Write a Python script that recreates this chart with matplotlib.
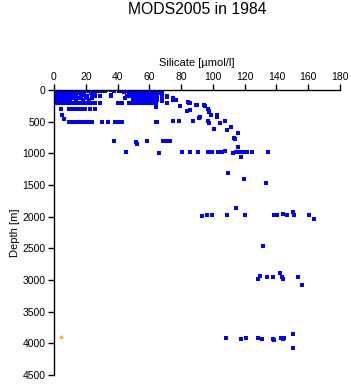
import numpy as np
import matplotlib.pyplot as plt

plt.rcParams['font.family'] = ['Liberation Sans', 'DejaVu Sans']

# upper layer: standard levels [m] and silicate values [umol/l] at each level
levels = [0, 10, 20, 30, 50, 75, 100, 125, 150, 200]
si_levels = [
    [1, 2, 3, 4, 5, 6, 7, 8, 9, 10, 11, 12, 14, 17, 20, 24, 27, 30, 33, 36, 42, 44, 46, 48, 52, 54, 56, 58, 60, 62, 64],
    [1, 2, 3, 4, 5, 6, 7, 8, 9, 10, 11, 13, 15, 19, 22, 29, 32, 38, 41, 45, 47, 50, 53, 55, 57, 59, 61, 63],
    [1, 2, 3, 4, 5, 6, 7, 8, 9, 10, 12, 14, 17, 21, 28, 31, 43, 49, 51, 54, 56, 58, 60, 62, 64],
    [1, 2, 3, 4, 5, 6, 7, 8, 9, 10, 11, 13, 16, 26, 44, 50, 52, 55, 57, 59, 61, 63, 65],
    [1, 2, 3, 4, 5, 6, 7, 8, 9, 10, 12, 15, 18, 23, 47, 50, 51, 53, 55, 57, 59, 61, 63, 65, 66, 68],
    [1, 2, 3, 4, 5, 6, 7, 8, 9, 10, 11, 13, 19, 24, 36, 50, 52, 54, 56, 58, 60, 62, 64, 68],
    [1, 2, 3, 4, 5, 6, 7, 8, 9, 10, 12, 14, 17, 21, 26, 29, 36, 46, 48, 51, 53, 55, 57, 59, 61, 63, 65, 71],
    [1, 2, 3, 4, 5, 6, 7, 8, 9, 11, 13, 16, 20, 24, 45, 50, 52, 54, 56, 58, 60, 62, 64, 68, 75],
    [1, 2, 3, 4, 5, 6, 7, 8, 9, 10, 14, 18, 22, 50, 51, 53, 55, 57, 59, 61, 63, 65, 75, 77],
    [1, 2, 3, 4, 5, 6, 8, 10, 12, 14, 16, 18, 20, 22, 24, 26, 29, 40, 43, 47, 50, 51, 53, 55, 57, 59, 61, 63, 64, 71, 85],
]

# deeper samples
si_deep = [64, 68, 68, 71, 71, 77, 79, 84.5, 85.6, 89.6, 89.8, 84, 85.8, 94.6, 95.3, 96.7, 97.7, 97.7,
           99, 102.8, 102.8, 91.9,
           4.4, 9.6, 12, 14.5, 17, 19.5, 22.6, 25.8, 5.2, 6.5,
           9.6, 11.5, 13.5, 15.5, 17.5, 19.5, 21.5, 23.7, 30, 34, 38.5, 40.5, 42.6, 64, 65, 75, 78.9, 87.7,
           97, 97.7, 104.5, 107.8, 91.5,
           100.9, 111.6, 108.9, 115.6, 113.5, 114, 115.6,
           38, 51.6, 52.4, 58.3, 68.8, 70.2, 71.6, 73,
           45.1, 66, 80.7, 85.8, 90.8, 96.7, 98, 99.2, 103, 105.9, 107.8, 112.8, 114.5, 116.5, 118.8,
           121.7, 124.8, 134.5, 117.7, 109.5, 119.8, 133.6,
           93, 96.1, 99.6, 108.9, 114.7, 120.4, 138.4, 140.5, 144.3, 146.4, 150.6, 151, 160.7, 163.4,
           131.7,
           128.6, 129.8, 133.8, 137.6, 142.2, 143.3, 143.9, 153.7, 156.3,
           108, 117.9, 120.6, 128.6, 130.7, 137.6, 138.7, 142.7, 143.9, 144.9, 150.6, 150.6]
z_deep = [273, 90, 174, 115, 210, 158, 252, 190, 200, 232, 237, 336, 310, 232, 252, 295, 327, 347,
          390, 400, 431, 431,
          305, 300, 300, 300, 300, 300, 300, 300, 395, 463,
          500, 500, 500, 500, 500, 500, 500, 500, 500, 500, 500, 500, 500, 505, 505, 494, 494, 494,
          494, 516, 521, 494, 440,
          615, 589, 636, 683, 757, 768, 905,
          805, 815, 857, 805, 805, 805, 805, 805,
          983, 1000, 983, 983, 983, 983, 983, 983, 983, 983, 967, 1000, 983, 983, 983,
          983, 983, 983, 1062, 1305, 1400, 1473,
          1983, 1972, 1972, 1972, 1867, 1967, 1972, 1967, 1957, 1977, 1925, 1967, 1972, 2040,
          2467,
          2990, 2940, 2950, 2960, 2893, 2960, 2990, 2950, 3076,
          3920, 3925, 3914, 3914, 3935, 3930, 3940, 3920, 3930, 3920, 3850, 4076]

# single flagged sample
si_flag = [4.4]
z_flag = [3903]

si_top = np.concatenate([np.array(v, float) for v in si_levels])
z_top = np.concatenate([np.full(len(v), lv, float) for lv, v in zip(levels, si_levels)])

fig = plt.figure(figsize=(3.51, 3.84), dpi=100)
ax = fig.add_axes([0.1538, 0.0234, 0.8149, 0.7422])

ax.plot(si_top, z_top, 's', color='#0000ff', ms=2.2, mew=0)
ax.plot(si_deep, z_deep, 's', color='#0000ff', ms=2.3, mew=0)
ax.plot(si_flag, z_flag, '+', color='#ffa500', ms=3, mew=1)

ax.set_xlim(0, 180)
ax.set_ylim(4500, 0)
ax.set_xticks(np.arange(0, 181, 20))
ax.set_yticks(np.arange(0, 4501, 500))
ax.xaxis.tick_top()
ax.xaxis.set_label_position('top')
ax.tick_params(axis='both', direction='out', length=4, width=1, labelsize=7.5, pad=2)
for s in ['right', 'bottom']:
    ax.spines[s].set_visible(False)
for s in ['top', 'left']:
    ax.spines[s].set_linewidth(1)

ax.set_xlabel('Silicate [µmol/l]', fontsize=8, labelpad=4)
ax.set_ylabel('Depth [m]', fontsize=8, labelpad=2)
fig.text(0.561, 0.976, 'MODS2005 in 1984', ha='center', va='center', fontsize=11.3)

fig.savefig('out.png', dpi=100)
